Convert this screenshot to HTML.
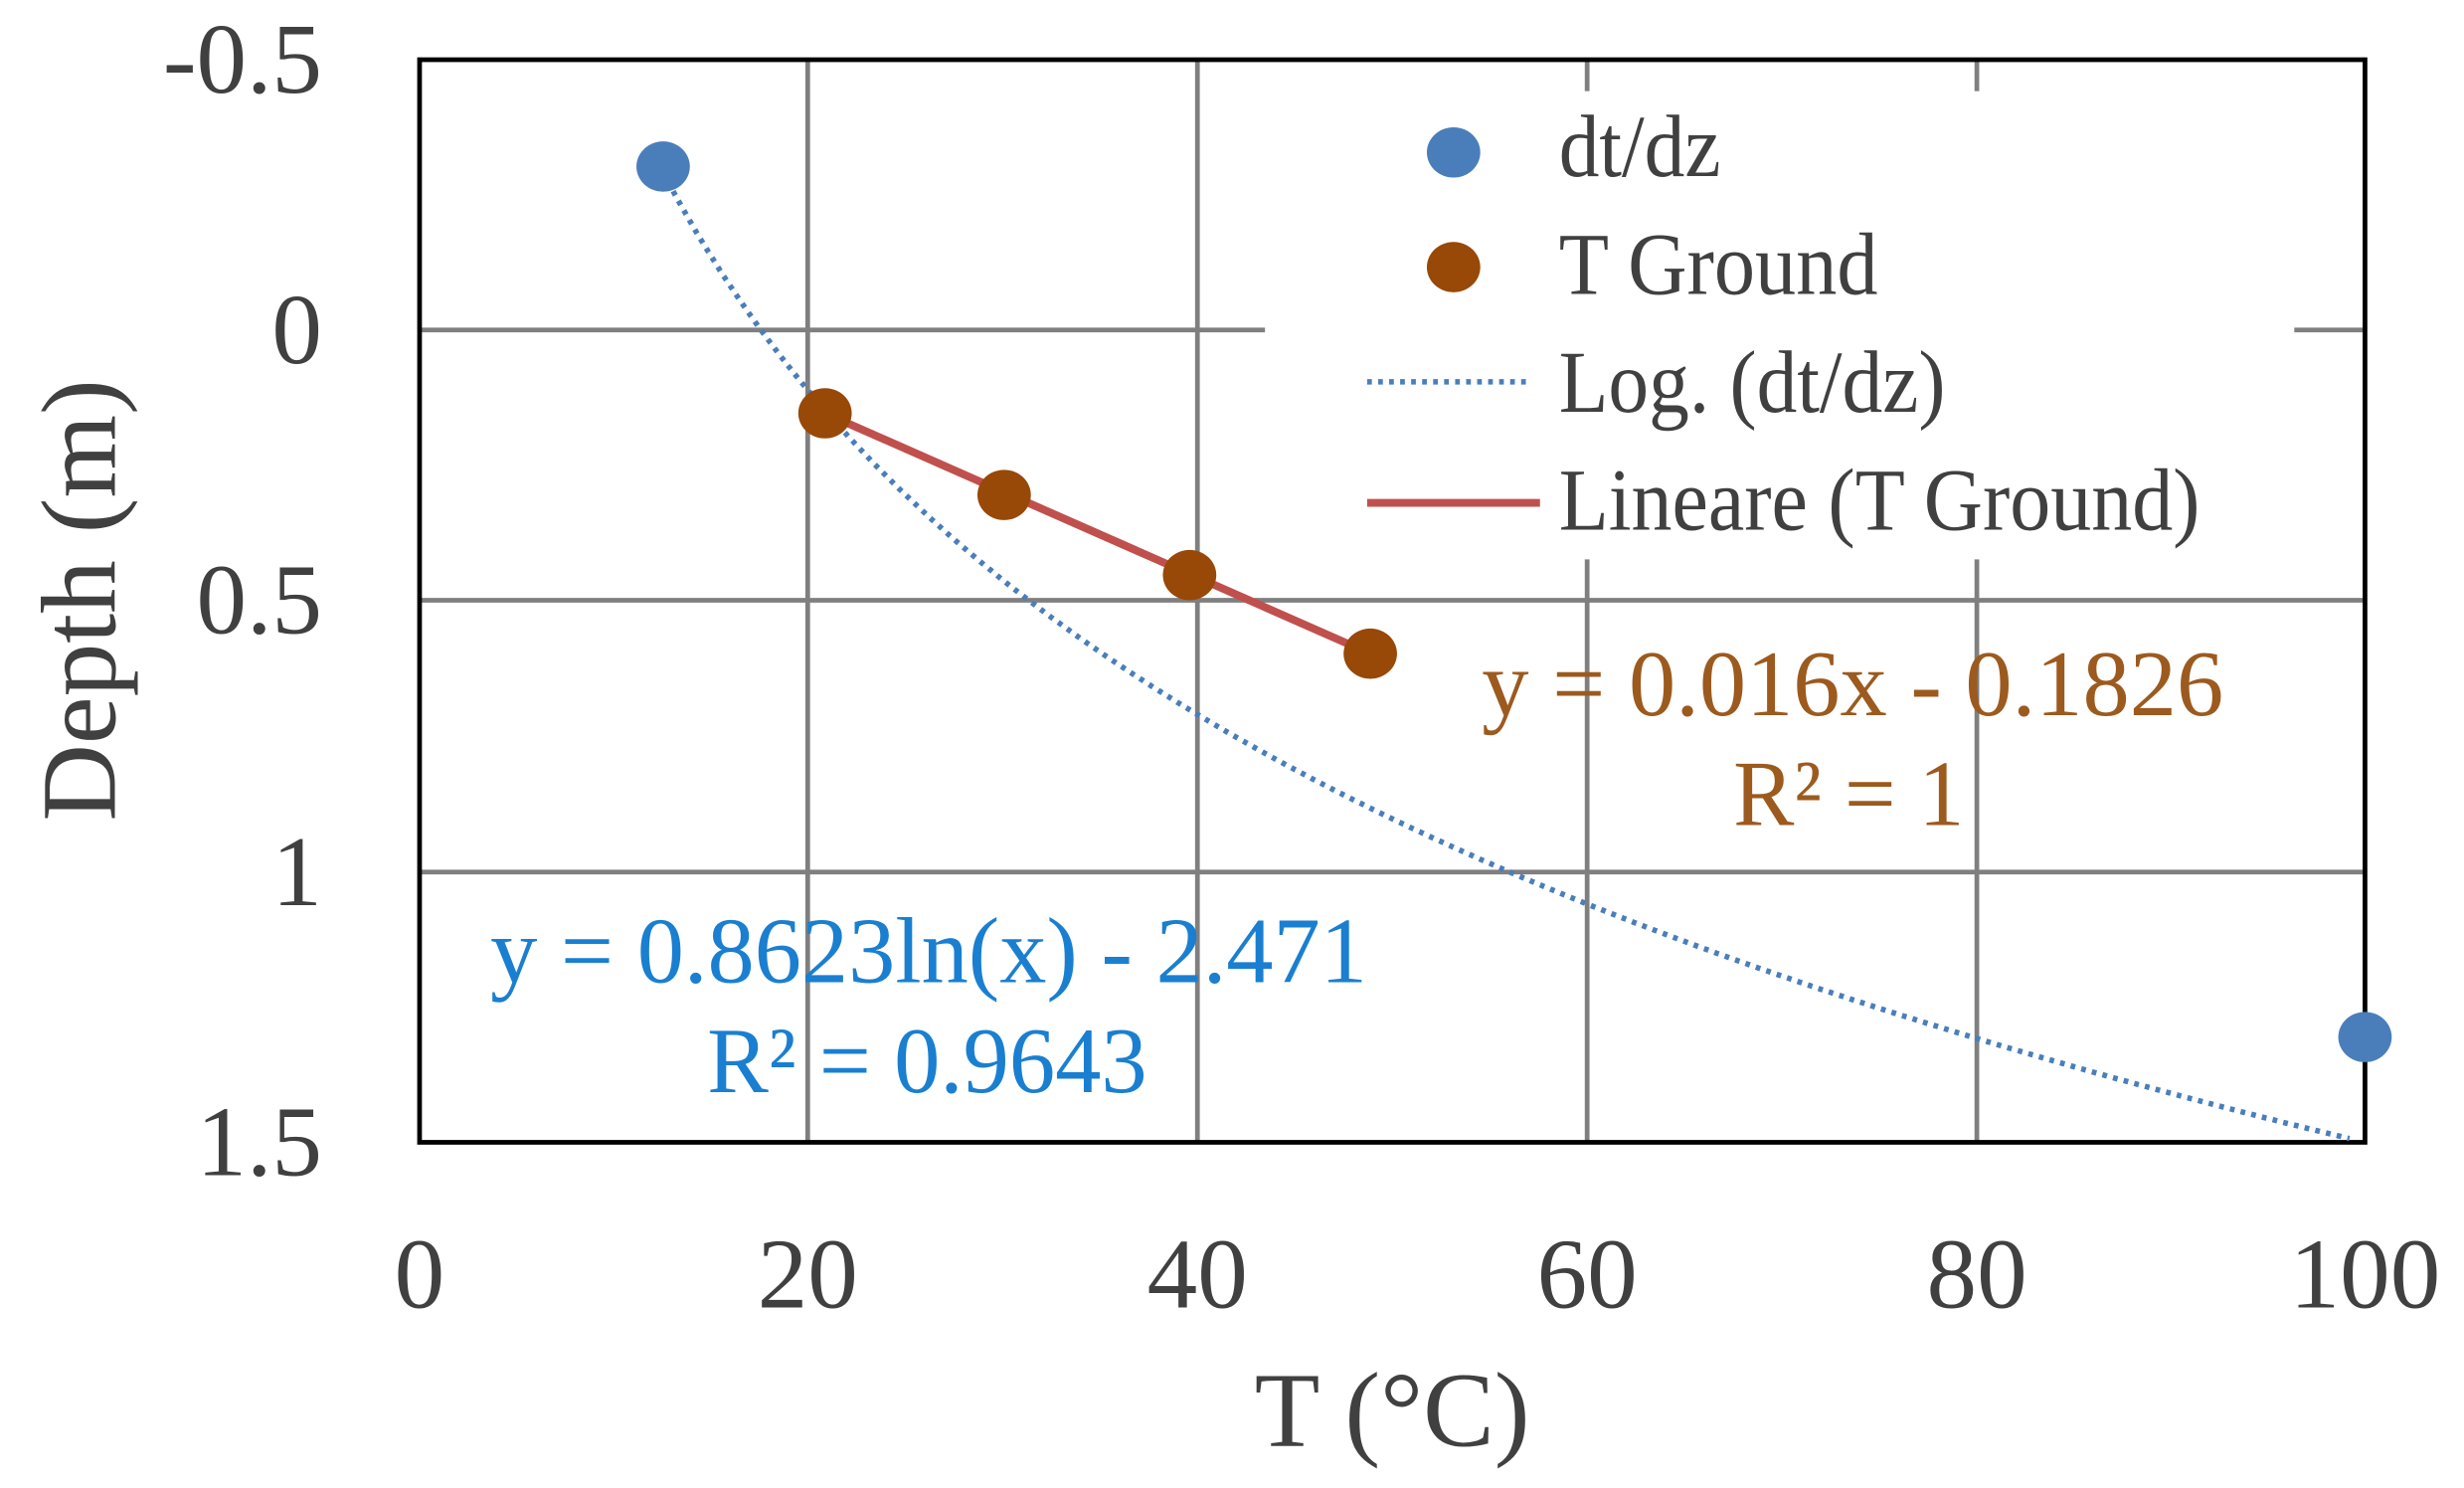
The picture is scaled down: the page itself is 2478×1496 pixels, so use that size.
<!DOCTYPE html>
<html><head><meta charset="utf-8"><style>
html,body{margin:0;padding:0;background:#fff;}
svg{display:block;}
text{font-family:"Liberation Serif",serif;}
</style></head><body>
<svg width="2478" height="1496" viewBox="0 0 1568 947" preserveAspectRatio="none" xmlns="http://www.w3.org/2000/svg">
<rect width="1568" height="947" fill="#fff"/>
<g stroke="#7f7f7f" stroke-width="3">
<line x1="514" y1="38" x2="514" y2="727"/>
<line x1="762" y1="38" x2="762" y2="727"/>
<line x1="1010" y1="38" x2="1010" y2="727"/>
<line x1="1258" y1="38" x2="1258" y2="727"/>
<line x1="267" y1="210" x2="1505" y2="210"/>
<line x1="267" y1="382" x2="1505" y2="382"/>
<line x1="267" y1="555" x2="1505" y2="555"/>
</g>
<rect x="805" y="58" width="655" height="298" fill="#fff"/>
<rect x="267" y="38" width="1238" height="689" fill="none" stroke="#000" stroke-width="3"/>
<path id="logc" fill="none" stroke="#4a7ebb" stroke-width="3.5" stroke-dasharray="3 4" d=""/>
<line x1="525" y1="263" x2="872" y2="416" stroke="#c0504d" stroke-width="5"/>
<g fill="#4a7ebb"><ellipse cx="422" cy="106" rx="17" ry="16"/><ellipse cx="1505" cy="660" rx="17" ry="16"/><ellipse cx="925" cy="97" rx="17" ry="16"/></g>
<g fill="#984807"><ellipse cx="525" cy="263" rx="17" ry="16"/><ellipse cx="639" cy="315" rx="17" ry="16"/><ellipse cx="757" cy="366" rx="17" ry="16"/><ellipse cx="872" cy="416" rx="17" ry="16"/><ellipse cx="925" cy="170" rx="17" ry="16"/></g>
<line x1="870" y1="243" x2="973" y2="243" stroke="#4a7ebb" stroke-width="3.5" stroke-dasharray="3 4"/>
<line x1="870" y1="320" x2="980" y2="320" stroke="#c0504d" stroke-width="5"/>
<g fill="#404040" font-size="56">
<text x="992" y="112" textLength="103" lengthAdjust="spacingAndGlyphs">dt/dz</text>
<text x="992" y="187" textLength="203" lengthAdjust="spacingAndGlyphs">T Ground</text>
<text x="992" y="262" textLength="246" lengthAdjust="spacingAndGlyphs">Log. (dt/dz)</text>
<text x="992" y="337" textLength="408" lengthAdjust="spacingAndGlyphs">Lineare (T Ground)</text>
</g>
<g fill="#9c5a1e" font-size="60">
<text x="943" y="455" textLength="472" lengthAdjust="spacingAndGlyphs">y = 0.016x - 0.1826</text>
<text x="1103" y="525" textLength="147" lengthAdjust="spacingAndGlyphs">R² = 1</text>
</g>
<g fill="#1a7fd0" font-size="60">
<text x="312" y="625" textLength="558" lengthAdjust="spacingAndGlyphs">y = 0.8623ln(x)  - 2.471</text>
<text x="450" y="695" textLength="280" lengthAdjust="spacingAndGlyphs">R² = 0.9643</text>
</g>
<g fill="#404040" font-size="64" text-anchor="end">
<text x="205" y="59">-0.5</text>
<text x="205" y="231">0</text>
<text x="205" y="403">0.5</text>
<text x="205" y="576">1</text>
<text x="205" y="748">1.5</text>
</g>
<g fill="#404040" font-size="64" text-anchor="middle">
<text x="267" y="832">0</text>
<text x="514" y="832">20</text>
<text x="762" y="832">40</text>
<text x="1010" y="832">60</text>
<text x="1258" y="832">80</text>
<text x="1505" y="832">100</text>
<text x="886" y="920" font-size="68">T (°C)</text>
<text transform="translate(73,382) rotate(-90)" font-size="68">Depth (m)</text>
</g>
<script>
var d="";for(var i=0;i<=200;i++){var x=12.5+(99.2-12.5)*i/200;var y=0.8623*Math.log(x)-2.471;var px=267+x*12.38,py=38+(y+0.5)*344.5;d+=(i?"L":"M")+px.toFixed(1)+" "+py.toFixed(1);}
document.getElementById("logc").setAttribute("d",d);
</script>
</svg>
</body></html>
